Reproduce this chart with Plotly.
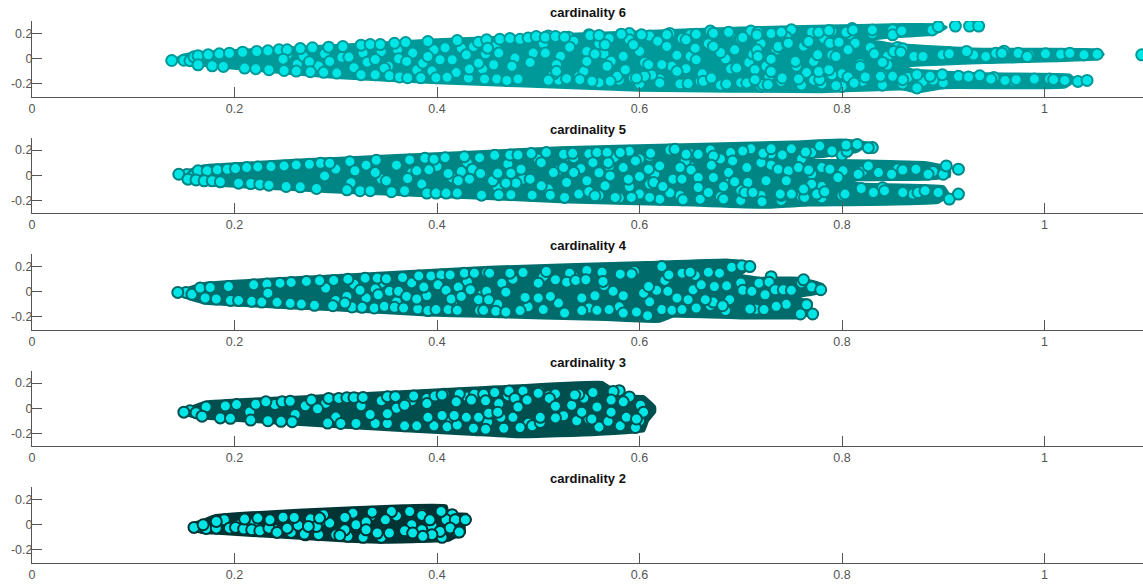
import plotly.graph_objects as go

titles = ["cardinality 6", "cardinality 5", "cardinality 4", "cardinality 3", "cardinality 2"]
x_ticks = [0, 0.2, 0.4, 0.6, 0.8, 1]
x_labels = ["0", "0.2", "0.4", "0.6", "0.8", "1"]
y_ticks = [-0.2, 0, 0.2]
y_labels = ["-0.2", "0", "0.2"]
edge_colors = ["#009999", "#008585", "#006b6b", "#004f4f", "#003434"]
face_color = "#00e6e6"

# Outline of the solidly overplotted mass of each panel
hull6_x = [.14,.15,.165,.2,.3,.4,.5,.6,.7,.8,.86,.895,.903,.89,.85,.825,.85,.94,1.052,1.058,1.052,.94,.86,.87,.94,1.025,1.03,1.02,.9,.874,.86,.78,.6,.48,.4,.3,.2,.165,.15]
hull6_y = [-.01,.03,.05,.065,.105,.15,.185,.215,.245,.262,.272,.27,.25,.195,.175,.15,.115,.075,.07,.035,0,-.03,-.06,-.09,-.12,-.13,-.17,-.225,-.23,-.265,-.24,-.262,-.25,-.215,-.19,-.15,-.075,-.05,-.03]
hull5_x = [.143,.152,.17,.294,.426,.5215,.653,.752,.80,.827,.815,.785,.75,.768,.883,.906,.906,.8815,.804,.818,.90,.905,.895,.768,.725,.653,.5215,.426,.294,.17,.152]
hull5_y = [-.005,.03,.075,.132,.18,.219,.245,.264,.28,.253,.19,.153,.132,.122,.10,.06,-.01,-.031,-.04,-.07,-.09,-.15,-.215,-.237,-.255,-.237,-.21,-.176,-.131,-.071,-.04]
hull4_x = [.145,.155,.17,.294,.452,.607,.686,.712,.706,.699,.719,.758,.781,.783,.758,.755,.768,.768,.76,.706,.633,.62,.607,.567,.4425,.39,.294,.17,.155]
hull4_y = [-.016,.03,.065,.126,.195,.232,.253,.227,.174,.134,.108,.108,.055,.003,-.037,-.05,-.08,-.17,-.205,-.208,-.195,-.235,-.235,-.221,-.195,-.185,-.142,-.09,-.055]
hull3_x = [.15,.158,.172,.301,.437,.563,.572,.58,.584,.604,.615,.615,.608,.604,.557,.482,.437,.301,.172,.158]
hull3_y = [-.036,.01,.05,.105,.16,.206,.16,.146,.097,.092,.01,-.03,-.099,-.18,-.208,-.227,-.208,-.148,-.08,-.065]
hull2_x = [.16,.168,.18,.268,.367,.409,.411,.429,.433,.427,.427,.419,.411,.350,.314,.232,.18,.167]
hull2_y = [-.021,.03,.07,.118,.15,.15,.087,.085,.04,0,-.066,-.092,-.124,-.139,-.131,-.092,-.066,-.06]

# Circles that sit beneath the others and show only as crescents
under6_x = [.51,.53,.55,.57,.59,.61,.63,.65,.67,.69,.71,.73,.75,.77,.79,.81,.83,.85,.52,.54,.56,.58,.6,.62,.64,.66,.68,.7,.72,.74,.76,.78,.8,.82,.84,.86,.88,.9,.53,.565,.605,.645,.685,.725,.765,.805,.845,
 .150,.156,.160,.505,.515,.522,.535,.545,.56,.572,.578,.59,.6,.612,.618,.632,.642,.65,.662,.668,.68,.69,.7,.708,.72,.728,.735,.745,.755,.762,.772,.782,.79,.8,.808,.818,.828,.84,.85,.855,.865,.878,.89,.905,.915,.93,.96,.985,1.005,.95,.97,.99,.83,.845,.86]
under6_y = [.18,.17,.19,.16,.2,.18,.2,.19,.22,.2,.22,.2,.23,.21,.22,.24,.2,.23,-.17,-.14,-.19,-.17,-.2,-.16,-.2,-.18,-.21,-.19,-.22,-.18,-.21,-.2,-.22,-.18,-.21,-.2,-.18,-.19,.08,.04,-.03,-.09,.0,-.06,-.11,.08,.02,
 -.012,-.015,.015,.12,-.12,.02,.14,-.1,.12,-.02,-.14,.15,.06,-.13,.14,-.06,.16,.02,-.12,.12,.05,-.08,.16,-.03,.12,-.14,.07,.17,-.06,.1,-.17,.16,.03,-.12,.19,-.04,.09,-.13,.19,.09,-.15,.01,-.17,.05,-.14,.03,.06,.03,-.16,-.15,-.18,-.17,.2,-.05,.08]
under5_x = [.53,.55,.57,.59,.61,.63,.65,.67,.69,.71,.73,.75,.77,.79,.54,.56,.58,.6,.62,.64,.66,.68,.7,.72,.74,.76,.78,.8,.57,.61,.65,.69,.73,.77,
 .153,.158,.3,.315,.33,.345,.36,.375,.385,.4,.415,.43,.445,.46,.47,.485,.5,.51,.52,.535,.55,.56,.575,.59,.6,.615,.63,.645,.66,.68,.7,.72,.74,.76,.78,.8,.82,.84,.855,.87,.89,.805,.83]
under5_y = [.15,.17,.16,.19,.15,.2,.17,.2,.18,.21,.17,.21,.18,.2,-.15,-.16,-.18,-.15,-.19,-.16,-.19,-.17,-.2,-.16,-.2,-.17,-.18,-.16,.07,-.07,.07,-.03,.08,.01,
 .005,-.01,.05,-.06,.08,-.03,.08,.02,-.07,.07,-.02,.1,.01,-.1,.09,-.03,.13,-.11,.04,.14,-.13,.02,.14,-.09,.13,.01,-.14,.11,-.1,.13,-.12,.1,-.16,.13,-.09,.16,.03,-.1,.05,-.15,.03,.19,.22]
under4_x = [.152,.158,.29,.3,.318,.33,.345,.36,.375,.39,.4,.415,.43,.445,.46,.475,.49,.505,.52,.535,.55,.565,.58,.595,.61,.625,.64,.655,.67,.685,.7,.715,.73,.745,.76]
under4_y = [-.005,-.02,.03,-.07,.06,-.05,.07,-.08,.07,-.03,.09,-.09,.08,-.02,-.1,.1,-.12,.12,-.09,.12,-.13,.05,-.12,.16,-.08,.09,-.15,.13,-.11,-.15,.07,-.14,.12,-.1,.07]
under3_x = [.156,.162,.2,.215,.24,.26,.27,.29,.3,.325,.345,.36,.375,.395,.41,.43,.45,.47,.49,.51,.525,.545,.56,.58,.59,.6]
under3_y = [-.02,-.035,.02,-.03,.03,-.05,.02,.04,-.07,.02,.06,.0,.06,.08,-.1,.09,-.11,.1,-.12,.1,-.06,.08,-.15,.14,.09,-.1]
under2_x = [.165,.172,.19,.205,.22,.24,.26,.27,.29,.3,.32,.335,.345,.36,.375,.385,.395,.405,.415]
under2_y = [-.015,-.03,.04,.0,.02,-.04,.02,-.08,.03,-.08,.0,.07,-.1,.07,.0,.09,-.01,-.1,.08]

dots6_x = [.262,.268,.283,.289,.306,.318,.327,.345,.352,.361,.376,.380,.397,.408,.424,.436,.445,.458,.252,.274,.331,.348,.362,.395,.419,.448,
 .138,.164,.174,.185,.195,.208,.222,.233,.244,.252,.265,.277,.293,.307,.325,.334,.344,.358,.369,.391,.420,.441,.449,.462,.472,.482,
 .164,.178,.189,.210,.221,.234,.249,.261,.275,.288,.301,.325,.339,.353,.363,.371,.384,.399,.410,.431,.447,.459,.469,.480,
 .248,.313,.339,.370,.386,.391,.403,.415,.432,.450,.456,.473,.477,.429,.441,.294,
 .490,.498,.507,.517,.526,.551,.560,.582,.602,.627,.646,.656,.673,.688,.702,.717,
 .510,.528,.541,.553,.571,.594,.605,.620,.648,.663,.686,.706,.722,
 .461,.477,.495,.507,.531,.548,.556,.566,.584,.594,.627,.637,.655,.673,.694,.712,.730,.474,.492,.518,.548,.568,.609,.622,.656,.646,.671,.696,.714,.730,.518,.586,.637,.597,
 .716,.740,.777,.787,.804,.811,.830,.859,.889,.895,.912,.926,.935,
 .716,.737,.746,.766,.788,.797,.813,.717,.730,.754,.772,.776,.794,.806,.832,.840,.851,.858,.871,.880,.899,.906,.923,.942,.952,.958,.974,.983,1.001,1.016,1.025,1.039,1.052,1.096,
 .714,.727,.741,.757,.778,.790,.794,.806,.812,.823,.838,.850,.860,.874,.874,.887,.899,.925,.936,.947,.961,.972,.990,1.009,1.020,1.033,1.042,.730,.754,.767,.777,.787,.747,.818]
dots6_y = [-.044,.021,-.058,.040,.011,-.071,.045,.058,-.060,.071,.045,-.090,.071,.087,.084,.096,-.082,.100,.030,-.024,-.027,-.075,.000,-.098,-.110,.040,
 -.014,.023,.031,.039,.044,.052,.058,.063,.071,.071,.081,.087,.092,.097,.108,.113,.113,.123,.129,.137,.145,.131,.150,.155,.160,.155,
 -.048,-.056,-.061,-.074,-.079,-.087,-.093,-.098,-.103,-.108,-.114,-.127,-.127,-.135,-.145,-.151,-.151,-.151,-.148,-.153,-.161,-.161,-.172,-.161,
 -.003,.013,-.006,-.021,-.035,.018,-.008,-.008,-.082,.084,-.048,-.061,.013,.031,-.035,-.021,
 .164,.177,.171,.177,.171,.185,.185,.195,.190,.190,.150,.195,.203,.211,.169,.211,
 -.171,-.158,-.166,-.179,-.179,-.153,-.139,-.192,-.197,-.179,-.200,-.192,-.205,
 .045,.005,.045,.045,.092,.058,.037,.111,.019,.111,.098,.027,.084,.098,.071,.037,.005,-.060,-.029,-.047,-.021,-.060,-.047,-.047,-.008,-.079,-.153,-.074,-.087,-.100,-.100,-.087,-.100,-.153,
 .189,.210,.210,.224,.210,.229,.229,.221,.229,.255,.260,.260,.260,
 .071,.097,.123,.137,.123,.131,.123,.018,-.003,-.014,-.021,.031,.018,.071,.039,-.029,.058,.052,.018,.018,.031,.039,.058,.018,.044,.044,.044,.018,.039,.036,.044,.031,.036,.031,
 -.166,-.206,-.153,-.161,-.166,-.127,-.214,-.145,-.193,-.145,-.140,-.140,-.166,-.127,-.232,-.140,-.127,-.145,-.135,-.161,-.172,-.166,-.161,-.166,-.172,-.180,-.172,-.101,-.021,.137,-.101,-.087,.123,-.061]

dots5_x = [.145,.164,.173,.183,.193,.201,.212,.223,.236,.249,.261,.274,.285,.294,.314,.340,.373,.388,.397,.408,.427,.442,.457,.472,.480,.493,.508,
 .154,.162,.170,.178,.186,.204,.216,.225,.234,.251,.265,.281,.311,.324,.334,.355,.368,.390,.399,.409,.420,.444,.461,.473,.494,.512,
 .380,.392,.411,.424,.435,.443,.455,.460,.473,.483,.478,.468,.503,.515,.421,.339,.289,.319,.350,.371,.432,.492,.503,
 .525,.534,.558,.568,.581,.611,.635,.646,.658,.673,.702,.722,.730,.741,.764,.778,.790,.804,.815,.826,
 .525,.542,.554,.569,.584,.596,.609,.620,.640,.651,.671,.688,.692,.706,.737,.747,.757,.767,.780,.788,.801,.816,.826,.836,.849,.860,.873,.885,.900,.903,.535,.571,.589,.600,.614,.633,.642,.658,.673,.694,.707,.725,.745,.796,.528,.548,.770,
 .526,.556,.566,.576,.592,.610,.623,.643,.658,.668,.683,.683,.694,.704,.712,.721,.739,.750,.763,.762,.775,.783,.803,.819,.831,.842,.860,.875,.882,.895,.906,.915,.915]
dots5_y = [.008,.035,.035,.043,.048,.053,.061,.066,.069,.074,.082,.087,.095,.095,.108,.119,.122,.135,.127,.140,.148,.140,.158,.161,.161,.172,.180,
 -.031,-.037,-.044,-.044,-.052,-.063,-.066,-.071,-.079,-.089,-.092,-.105,-.116,-.123,-.123,-.131,-.123,-.142,-.142,-.142,-.142,-.158,-.155,-.155,-.158,-.158,
 .035,.043,.014,.029,.048,.014,-.044,.016,.016,.048,-.063,-.063,.100,.021,-.044,.021,-.005,.035,-.044,-.026,-.031,-.031,-.084,
 .166,.174,.180,.180,.180,.174,.206,.166,.166,.153,.193,.174,.211,.161,.185,.232,.193,.240,.245,.219,
 .061,.053,.100,.100,.061,.114,.048,.074,.061,.042,.079,.021,.114,.061,.048,.035,.061,.042,.061,.048,.035,.008,.074,.021,.008,.042,.048,.008,.008,.074,.021,-.005,-.031,-.010,-.058,-.031,-.031,-.018,-.018,-.044,-.058,-.044,-.044,-.018,-.058,-.044,-.071,
 -.176,-.163,-.084,-.176,-.176,-.176,-.089,-.195,-.097,-.137,-.189,-.089,-.052,-.137,-.137,-.210,-.150,-.150,-.176,-.110,-.150,-.131,-.150,-.105,-.137,-.123,-.137,-.137,-.123,-.137,-.189,-.150,.048]

dots4_x = [.144,.166,.176,.194,.219,.232,.245,.256,.271,.284,.298,.312,.329,.341,.350,.366,.382,.394,.404,.413,.427,.437,.449,
 .171,.182,.196,.204,.217,.227,.242,.255,.266,.279,.297,.316,.326,.338,.348,.358,.367,.381,.391,.399,.411,.420,.442,
 .311,.324,.339,.342,.353,.362,.370,.387,.401,.409,.421,.414,.424,.433,.449,.441,.380,.309,.233,
 .452,.472,.485,.508,.531,.548,.563,.581,.592,.622,.642,.650,.668,.679,.691,.701,.709,
 .451,.464,.468,.487,.500,.512,.517,.528,.537,.547,.564,.556,.574,.584,.604,.617,.628,.629,.609,.653,.661,.674,.686,.673,.689,.702,.711,.718,.728,.734,.742,.750,.762,.770,.779,.648,.665,.765,.724,.500,.543,.637,
 .446,.458,.468,.482,.505,.526,.543,.558,.570,.584,.597,.608,.622,.632,.642,.656,.682,.709,.723,.735,.759,.771,.765]
dots4_y = [-.005,.029,.034,.042,.055,.061,.068,.074,.082,.087,.090,.100,.108,.108,.103,.113,.126,.126,.134,.134,.148,.148,.153,
 -.050,-.058,-.069,-.069,-.076,-.082,-.084,-.092,-.098,-.108,-.111,-.121,-.124,-.129,-.116,-.124,-.129,-.137,-.150,-.142,-.142,-.148,-.148,
 -.037,.011,.021,-.024,.003,.003,-.037,.037,.055,.011,.037,-.058,-.037,.016,.003,-.063,-.058,-.090,-.011,
 .148,.148,.153,.161,.148,.169,.155,.140,.142,.200,.148,.155,.155,.148,.195,.206,.200,
 -.064,.068,-.003,-.045,.068,-.037,.095,.076,.090,.095,.082,-.032,.003,-.032,-.011,.011,.003,.134,.042,.016,.055,.042,.047,-.082,-.063,.011,.003,.068,.076,.016,.016,.011,.095,.037,.016,-.063,-.063,-.103,-.024,-.050,-.050,-.050,
 -.148,-.155,-.161,-.150,-.142,-.169,-.150,-.148,-.142,-.169,-.161,-.190,-.142,-.148,-.142,-.129,-.111,-.137,-.142,-.116,-.177,-.177,-.103]

dots3_x = [.150,.172,.191,.202,.221,.231,.247,.255,.276,.293,.303,.311,.318,.327,.351,.359,.377,.390,.398,.407,.422,.437,.446,.457,.471,.485,.501,.517,.540,.554,.574,
 .168,.186,.196,.216,.233,.246,.257,.292,.305,.320,.339,.351,.368,.380,.397,.410,.420,.436,.448,.466,.482,.494,.502,.517,.538,.550,.569,.581,.596,
 .282,.334,.351,.368,.390,.405,.391,.405,.417,.429,.441,.448,.461,.451,.463,.475,.477,.489,.480,.500,.502,.511,.517,.533,.543,.558,.572,.572,.584,.587,.601,.604,.597,.553,.536,.460,.434,.419]
dots3_y = [-.031,.010,.018,.029,.032,.051,.051,.056,.065,.078,.078,.084,.084,.086,.092,.092,.097,.078,.097,.111,.114,.111,.111,.125,.138,.138,.133,.114,.111,.125,.133,
 -.063,-.077,-.080,-.094,-.099,-.104,-.107,-.118,-.121,-.121,-.121,-.121,-.140,-.140,-.140,-.148,-.134,-.159,-.167,-.159,-.153,-.140,-.113,-.077,-.099,-.085,-.104,-.140,-.153,
 -.004,-.050,-.044,.024,.037,-.058,-.072,.105,-.058,-.072,-.072,.059,.037,-.039,-.072,-.072,.078,.065,.010,.119,-.072,.078,.016,.024,-.031,.010,.065,-.031,.051,-.072,.024,-.031,-.085,-.085,.105,-.031,.065,.051]

dots2_x = [.160,.182,.195,.201,.209,.217,.225,.234,.242,.256,.263,.269,.283,.294,.312,.327,.341,.353,.368,.385,.403,.414,.420,.210,.223,.248,.259,.275,.288,.317,.309,.336,.355,.373,.385,.393,.404,.419,.349,.330,.330,.309,.304,.281,.252,.182,.169,.409,.376,.395,.386,.284,.273,.235,.418,.428,.413,.422,.404]
dots2_y = [-.021,-.027,-.027,-.021,-.034,-.040,-.048,-.027,-.061,-.061,-.005,-.074,-.079,.013,-.092,-.100,-.066,-.066,-.048,-.040,-.053,-.027,-.058,.045,.053,.060,.058,.047,.079,.092,.058,.100,.105,.105,.074,.039,.113,.039,.039,.021,-.040,-.040,-.085,-.013,-.027,.026,.000,.039,-.066,-.079,-.092,.053,-.013,.039,.040,.040,-.026,-.058,.106]

hulls = [(hull6_x, hull6_y), (hull5_x, hull5_y), (hull4_x, hull4_y), (hull3_x, hull3_y), (hull2_x, hull2_y)]
dots = [(under6_x + dots6_x, under6_y + dots6_y), (under5_x + dots5_x, under5_y + dots5_y),
        (under4_x + dots4_x, under4_y + dots4_y), (under3_x + dots3_x, under3_y + dots3_y),
        (under2_x + dots2_x, under2_y + dots2_y)]
for (a, b), (c, d) in zip(hulls, dots):
    assert len(a) == len(b) and len(c) == len(d), (len(a), len(b), len(c), len(d))

W, H = 1143, 585
LEFT = 32
BOTTOMS = [96.5, 213, 329.5, 446, 562.5]
AX_H = 75.5
XMAX = (W - LEFT) / 1012.5
FONT = "Liberation Sans"
TICK_C = "#555555"
LINE_C = "#555555"

fig = go.Figure()
layout = dict(
    width=W, height=H, margin=dict(l=0, r=0, t=0, b=0, autoexpand=False), autosize=False,
    paper_bgcolor="white", plot_bgcolor="white", showlegend=False,
    font=dict(family=FONT, size=12, color=TICK_C),
)
annotations = []
for i in range(5):
    suffix = "" if i == 0 else str(i + 1)
    xref, yref = "x" + suffix, "y" + suffix
    hx, hy = hulls[i]
    dx, dy = dots[i]
    col = edge_colors[i]
    fig.add_trace(go.Scatter(x=hx + hx[:1], y=hy + hy[:1], mode="lines", fill="toself",
                             fillcolor=col, line=dict(color=col, width=3, shape="spline", smoothing=0.3),
                             hoverinfo="skip", xaxis=xref, yaxis=yref))
    fig.add_trace(go.Scatter(x=dx, y=dy, mode="markers",
                             marker=dict(size=11, color=face_color, line=dict(color=col, width=2)),
                             xaxis=xref, yaxis=yref))
    bot = 1 - BOTTOMS[i] / H
    top = 1 - (BOTTOMS[i] - AX_H) / H
    layout["xaxis" + suffix] = dict(
        domain=[LEFT / W, 1], range=[0, XMAX], anchor=yref, showgrid=False, zeroline=False,
        showline=True, linecolor=LINE_C, linewidth=1, ticks="inside", ticklen=10, tickwidth=1,
        tickcolor=LINE_C, tickvals=x_ticks, ticktext=x_labels, ticklabelstandoff=0,
        tickfont=dict(family=FONT, size=12.5, color=TICK_C),
    )
    layout["yaxis" + suffix] = dict(
        domain=[bot, top], range=[-0.3, 0.3], anchor=xref, showgrid=False, zeroline=False,
        showline=True, linecolor=LINE_C, linewidth=1, ticks="inside", ticklen=10, tickwidth=1,
        tickcolor=LINE_C, tickvals=y_ticks, ticktext=y_labels, ticklabelstandoff=-4,
        tickfont=dict(family=FONT, size=12.5, color=TICK_C),
    )
    annotations.append(dict(text="<b>" + titles[i] + "</b>", xref="paper", yref="paper",
                            x=(LEFT + 1113 / 2) / W, y=top, yanchor="bottom", xanchor="center", showarrow=False,
                            font=dict(family=FONT, size=13, color="#111111"), yshift=-1))
layout["annotations"] = annotations
fig.update_layout(**layout)
fig.write_html("out.html", post_script="document.body.style.margin='0';",
               config=dict(displayModeBar=False))
